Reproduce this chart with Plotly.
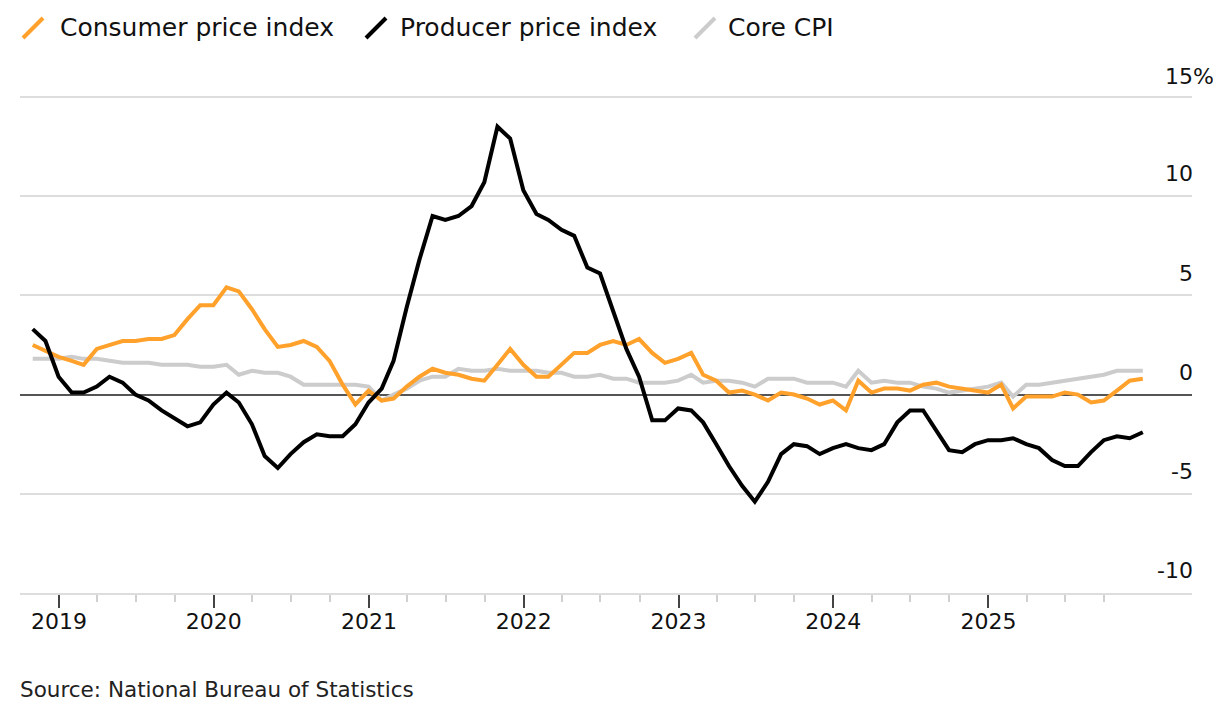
import pandas as pd
import plotly.graph_objects as go

# Monthly data, Oct 2018 - Dec 2025 (year-over-year %, plotted at month end)
start_month = "2018-10-31"

cpi = [2.5, 2.2, 1.9,
       1.7, 1.5, 2.3, 2.5, 2.7, 2.7, 2.8, 2.8, 3.0, 3.8, 4.5, 4.5,
       5.4, 5.2, 4.3, 3.3, 2.4, 2.5, 2.7, 2.4, 1.7, 0.5, -0.5, 0.2,
       -0.3, -0.2, 0.4, 0.9, 1.3, 1.1, 1.0, 0.8, 0.7, 1.5, 2.3, 1.5,
       0.9, 0.9, 1.5, 2.1, 2.1, 2.5, 2.7, 2.5, 2.8, 2.1, 1.6, 1.8,
       2.1, 1.0, 0.7, 0.1, 0.2, 0.0, -0.3, 0.1, 0.0, -0.2, -0.5, -0.3,
       -0.8, 0.7, 0.1, 0.3, 0.3, 0.2, 0.5, 0.6, 0.4, 0.3, 0.2, 0.1,
       0.5, -0.7, -0.1, -0.1, -0.1, 0.1, 0.0, -0.4, -0.3, 0.2, 0.7, 0.8]

ppi = [3.3, 2.7, 0.9,
       0.1, 0.1, 0.4, 0.9, 0.6, 0.0, -0.3, -0.8, -1.2, -1.6, -1.4, -0.5,
       0.1, -0.4, -1.5, -3.1, -3.7, -3.0, -2.4, -2.0, -2.1, -2.1, -1.5, -0.4,
       0.3, 1.7, 4.4, 6.8, 9.0, 8.8, 9.0, 9.5, 10.7, 13.5, 12.9, 10.3,
       9.1, 8.8, 8.3, 8.0, 6.4, 6.1, 4.2, 2.3, 0.9, -1.3, -1.3, -0.7,
       -0.8, -1.4, -2.5, -3.6, -4.6, -5.4, -4.4, -3.0, -2.5, -2.6, -3.0, -2.7,
       -2.5, -2.7, -2.8, -2.5, -1.4, -0.8, -0.8, -1.8, -2.8, -2.9, -2.5, -2.3,
       -2.3, -2.2, -2.5, -2.7, -3.3, -3.6, -3.6, -2.9, -2.3, -2.1, -2.2, -1.9]

core_cpi = [1.8, 1.8, 1.8,
            1.9, 1.8, 1.8, 1.7, 1.6, 1.6, 1.6, 1.5, 1.5, 1.5, 1.4, 1.4,
            1.5, 1.0, 1.2, 1.1, 1.1, 0.9, 0.5, 0.5, 0.5, 0.5, 0.5, 0.4,
            -0.3, 0.0, 0.3, 0.7, 0.9, 0.9, 1.3, 1.2, 1.2, 1.3, 1.2, 1.2,
            1.2, 1.1, 1.1, 0.9, 0.9, 1.0, 0.8, 0.8, 0.6, 0.6, 0.6, 0.7,
            1.0, 0.6, 0.7, 0.7, 0.6, 0.4, 0.8, 0.8, 0.8, 0.6, 0.6, 0.6,
            0.4, 1.2, 0.6, 0.7, 0.6, 0.6, 0.4, 0.3, 0.1, 0.2, 0.3, 0.4,
            0.6, -0.1, 0.5, 0.5, 0.6, 0.7, 0.8, 0.9, 1.0, 1.2, 1.2, 1.2]

dates = pd.date_range(start_month, periods=len(cpi), freq="ME")

year_labels = ["2019", "2020", "2021", "2022", "2023", "2024", "2025"]
y_tickvals = [-10, -5, 0, 5, 10, 15]
y_ticktext = ["-10", "-5", "0", "5", "10", "15%"]

series_names = ["Consumer price index", "Producer price index", "Core CPI"]
series_colors = ["#ffa12b", "#000000", "#cccccc"]

year_ticks = [f"{y}-01-01" for y in year_labels]
quarter_ticks = [f"{y}-{m:02d}-01" for y in year_labels for m in (4, 7, 10)]

FONT = "DejaVu Sans"
W, H = 1227, 707
# plot area in page pixels: left 20, right 1192, y=15 at 97, y=-10 at 593
Y_TOP = 15.5
unit = (593 - 97) / 25.0
ML = 20
MR = W - 1192
MT = int(round(97 - (Y_TOP - 15) * unit))
MB = H - 593
PW, PH = W - ML - MR, H - MT - MB
LABEL_SHIFT = -7


def px(x):
    return (x - ML) / PW


def py(y):
    return (H - MB - y) / PH


fig = go.Figure()
fig.add_trace(go.Scatter(x=dates, y=core_cpi, mode="lines", name=series_names[2],
                         line=dict(color=series_colors[2], width=4)))
fig.add_trace(go.Scatter(x=dates, y=cpi, mode="lines", name=series_names[0],
                         line=dict(color=series_colors[0], width=4)))
fig.add_trace(go.Scatter(x=dates, y=ppi, mode="lines", name=series_names[1],
                         line=dict(color=series_colors[1], width=4)))

# Custom legend with diagonal swatches
legend_items = [(series_names[0], series_colors[0], 23, 60),
                (series_names[1], series_colors[1], 366, 400),
                (series_names[2], series_colors[2], 695, 728)]
shapes = []
annotations = []
for name, color, sx, tx in legend_items:
    shapes.append(dict(type="line", xref="paper", yref="paper",
                       x0=px(sx), y0=py(38), x1=px(sx + 20), y1=py(18),
                       line=dict(color=color, width=4)))
    annotations.append(dict(text=name, xref="paper", yref="paper",
                            x=px(tx - 2), y=py(27), xanchor="left", yanchor="middle",
                            showarrow=False, font=dict(family=FONT, size=25, color="#111111")))

# top tick label: the "%" hangs past the right-aligned numbers
top_label = y_ticktext[-1]
axis_ticktext = y_ticktext[:-1] + [""]
annotations.append(dict(text=top_label, xref="paper", yref="y",
                        x=px(1216), y=y_tickvals[-1], xanchor="right", yanchor="bottom",
                        yshift=6, showarrow=False,
                        font=dict(family=FONT, size=22, color="#111111")))

annotations.append(dict(text="Source: National Bureau of Statistics", xref="paper", yref="paper",
                        x=px(18), y=py(689), xanchor="left", yanchor="middle", showarrow=False,
                        font=dict(family=FONT, size=21.5, color="#222222")))

fig.update_layout(
    width=W, height=H, autosize=False,
    margin=dict(l=ML, r=MR, t=MT, b=MB),
    paper_bgcolor="white", plot_bgcolor="white",
    showlegend=False,
    shapes=shapes, annotations=annotations,
    xaxis=dict(
        type="date",
        range=["2018-10-01", "2026-04-26"],
        tickmode="array", tickvals=year_ticks, ticktext=year_labels,
        ticks="outside", ticklen=13, tickwidth=2, tickcolor="#444444",
        ticklabelstandoff=-5,
        showgrid=False, showline=True, linecolor="#dddddd", linewidth=2,
        tickfont=dict(family=FONT, size=22, color="#111111"),
        minor=dict(ticks="outside", ticklen=7, tickwidth=1.5, tickcolor="#d0d0d0",
                   tickmode="array", tickvals=quarter_ticks, showgrid=False),
        zeroline=False, fixedrange=True,
    ),
    yaxis=dict(
        range=[-10, Y_TOP], side="right",
        tickmode="array", tickvals=y_tickvals, ticktext=axis_ticktext,
        ticklabelposition="inside top", ticklabeloverflow="allow",
        ticklabelshift=LABEL_SHIFT, ticklabelstandoff=-4,
        ticks="", showgrid=True, gridcolor="#dddddd", gridwidth=1.5,
        zeroline=True, zerolinecolor="#555555", zerolinewidth=2,
        showline=False,
        tickfont=dict(family=FONT, size=22, color="#111111"),
        fixedrange=True,
    ),
)

fig.write_html("out.html", config={"displayModeBar": False},
               post_script="document.body.style.margin='0';")
